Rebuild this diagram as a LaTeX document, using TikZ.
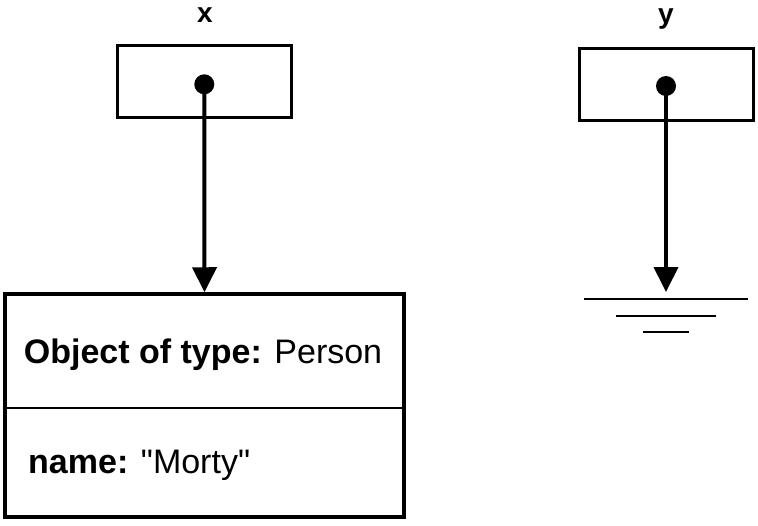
\documentclass[tikz,border=0pt]{standalone}
\usepackage{fontspec}
\setmainfont{Liberation Sans}[Ligatures=TeXOff]
\usetikzlibrary{arrows.meta}
\begin{document}
\begin{tikzpicture}[x=1pt,y=-1pt,
  varbox/.style={draw,line width=3.5pt,minimum width=174pt,minimum height=72pt,inner sep=0pt},
  objbox/.style={draw,line width=3.5pt,minimum width=399pt,minimum height=223pt,inner sep=0pt},
  refdot/.style={circle,fill,inner sep=0pt,minimum size=20pt},
  varlabel/.style={font=\fontsize{28}{32}\selectfont\bfseries,anchor=base,inner sep=0pt},
  objtext/.style={font=\fontsize{34}{40}\selectfont,inner sep=0pt},
  refarrow/.style={line width=4pt,-{Triangle[length=25pt,width=24pt]}},
  groundline/.style={line width=2pt}]
\useasboundingbox (0,0) rectangle (758,525);
% variable x
\node[varlabel] (xlab) at (205,22) {x};
\node[varbox] (xbox) at (204.25,81.5) {};
\node[refdot] (xdot) at (204.3,84.3) {};
% variable y
\node[varlabel] (ylab) at (666,23) {y};
\node[varbox] (ybox) at (666.25,84.5) {};
\node[refdot] (ydot) at (666,86) {};
% object
\node[objbox] (obj) at (204.5,405.5) {};
\coordinate (div) at (204.5,408);
\draw[line width=1.5pt] (obj.west |- div) -- (obj.east |- div);
\node[objtext,anchor=base] (title) at (203,363) {\textbf{Object of type:} Person};
\node[objtext,anchor=base west] (field) at (28,473) {\textbf{name:} "Morty"};
% ground
\coordinate (gnd) at (666,299);
\draw[groundline] ([xshift=-82pt]gnd) -- ([xshift=82pt]gnd);
\draw[groundline] ([xshift=-50pt,yshift=-16.5pt]gnd) -- ([xshift=50pt,yshift=-16.5pt]gnd);
\draw[groundline] ([xshift=-23pt,yshift=-33pt]gnd) -- ([xshift=23pt,yshift=-33pt]gnd);
% connectors
\draw[refarrow] (xdot.center) -- (obj.north);
\draw[refarrow,shorten >=7pt] (ydot.center) -- (gnd);
\end{tikzpicture}
\end{document}
